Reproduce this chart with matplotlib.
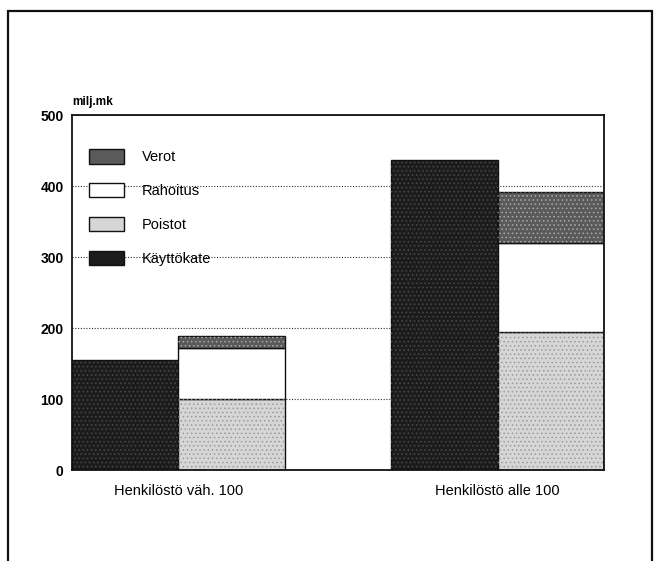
import matplotlib.pyplot as plt
from matplotlib.patches import Rectangle, Patch

plt.rcParams['font.family'] = ['Liberation Sans', 'DejaVu Sans']

# data (milj. mk)
groups = ['Henkilöstö väh. 100', 'Henkilöstö alle 100']
kayttokate = [155, 437]
poistot = [100, 194]
rahoitus = [72, 126]
verot = [17, 72]

col_kk = '#1c1c1c'
col_ve = '#5a5a5a'
col_ra = '#ffffff'
col_po = '#d6d6d6'

fig = plt.figure(figsize=(6.66, 5.61), dpi=100)
ax = fig.add_axes([0.108, 0.162, 0.799, 0.633])

# outer frame of the scanned page
fig.patches.append(Rectangle((0.012, -0.05), 0.967, 1.03, transform=fig.transFigure,
                             fill=False, lw=1.6, ec='#111111'))

xd = [0.5, 3.5]   # Käyttökate bars
xs = [1.5, 4.5]   # stacked bars
w = 1.0


def draw(x, h, b, fc, dots):
    ax.bar(x, h, w, bottom=b, color=fc, edgecolor='#111111', lw=1.0, zorder=2)
    if dots:
        ax.bar(x, h, w, bottom=b, color='none', edgecolor=dots, lw=0, hatch='....', zorder=2.5)


plt.rcParams['hatch.linewidth'] = 0.6
draw(xd, kayttokate, 0, col_kk, '#4a4a4a')
draw(xs, poistot, 0, col_po, '#9a9a9a')
b2 = [p + r for p, r in zip(poistot, rahoitus)]
draw(xs, rahoitus, poistot, col_ra, None)
draw(xs, verot, b2, col_ve, '#aaaaaa')

ax.set_xlim(0, 5)
ax.set_ylim(0, 500)
ax.set_yticks([0, 100, 200, 300, 400, 500])
ax.set_xticks([1, 4])
ax.set_xticklabels(groups, fontsize=10.5)
ax.tick_params(axis='both', length=0)
ax.tick_params(axis='y', labelsize=10, pad=6)
for t in ax.get_yticklabels():
    t.set_fontweight('bold')
ax.tick_params(axis='x', pad=10)
ax.yaxis.grid(True, linestyle=(0, (1, 1.5)), color='#333333', lw=0.8, zorder=0)
ax.set_axisbelow(True)
for s in ax.spines.values():
    s.set_linewidth(1.3)
    s.set_color('#111111')

ax.text(0.0, 1.02, 'milj.mk', transform=ax.transAxes, fontsize=8.5,
        fontweight='bold', ha='left', va='bottom')

handles = [Patch(facecolor=col_ve, edgecolor='#111111', label='Verot'),
           Patch(facecolor=col_ra, edgecolor='#111111', label='Rahoitus'),
           Patch(facecolor=col_po, edgecolor='#111111', label='Poistot'),
           Patch(facecolor=col_kk, edgecolor='#111111', label='Käyttökate')]
ax.legend(handles=handles, loc='upper left', bbox_to_anchor=(0.032, 0.904),
          frameon=False, fontsize=10.5, handlelength=2.4, handleheight=1.15,
          labelspacing=1.28, handletextpad=1.2, borderpad=0, borderaxespad=0)

fig.savefig('out.png', dpi=100)
